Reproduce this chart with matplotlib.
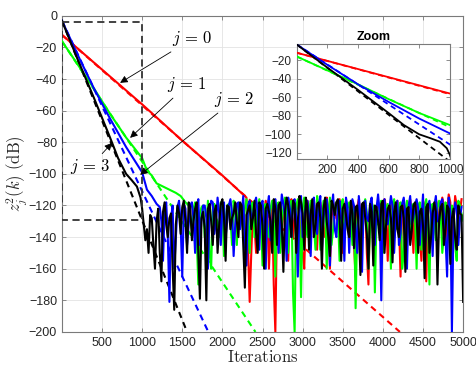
import numpy as np
import matplotlib
matplotlib.use("Agg")
import matplotlib.pyplot as plt

plt.rcParams["font.family"] = ["Liberation Sans", "DejaVu Sans"]
plt.rcParams["mathtext.fontset"] = "cm"

STEP = 20  # spacing (iterations) between read-off samples in the noise floor

# ---- transient part of each simulated curve (iteration, dB) ----
red_x = [0, 500, 1000, 1500, 2000, 2300]
red_y = [-12, -34, -56, -79, -101, -115]
green_x = [0, 200, 400, 600, 800, 1000, 1060, 1120, 1180, 1260, 1340, 1420, 1480, 1540]
green_y = [-16, -31, -46, -62, -77, -90, -98, -101, -106, -108, -110, -112, -114, -118]
blue_x = [0, 200, 400, 600, 800, 1000, 1060, 1120, 1180]
blue_y = [-3, -25, -46, -65, -83, -99, -110, -114, -119]
black_x = [0, 200, 400, 600, 700, 800, 870, 935, 980, 1000]
black_y = [-3, -28, -52, -77, -90, -100, -104, -108, -115, -122]

# ---- noise floor (dB): "even" samples every 40 it., "odd" samples in between ----
red_noise_start = 2340
red_noise = [-181, -125, -150, -118, -140, -117, -160, -119, -200, -122,
             -135, -117, -155, -116, -128, -118, -145, -160, -117, -130,
             -116, -148, -118, -135, -115, -160, -118, -128, -116, -150,
             -117, -140, -119, -165, -116, -132, -118, -170, -117, -145,
             -118, -135, -116, -155, -119, -140, -117, -165, -118, -130,
             -116, -150, -119, -138, -117, -168, -119, -142, -116, -132,
             -115, -145, -113, -150, -114, -128, -116]
red_mid = [-150, -132, -121, -128, -124, -121, -135, -170, -128, -121,
           -125, -130, -121, -140, -122, -128, -150, -124, -121, -128,
           -130, -121, -125, -140, -122, -128, -121, -130, -125, -120,
           -128, -122, -145, -121, -127, -124, -150, -121, -128, -122,
           -126, -140, -121, -128, -123, -122, -130, -121, -145, -120,
           -125, -121, -128, -155, -120, -126, -122, -130, -121, -128,
           -120, -125, -118, -130, -120, -124]

green_noise_start = 1580
green_noise = [-120, -135, -118, -170, -121, -140, -117, -160, -119, -130,
               -118, -152, -120, -128, -117, -145, -119, -135, -116, -150,
               -118, -130, -116, -158, -119, -140, -117, -165, -118, -132,
               -115, -150, -117, -200, -116, -178, -115, -140, -117, -132,
               -114, -148, -117, -160, -115, -135, -118, -155, -116, -130,
               -118, -145, -185, -120, -138, -116, -160, -118, -175, -132,
               -117, -140, -119, -160, -116, -135, -118, -150, -117, -142,
               -119, -160, -118, -138, -116, -170, -119, -142, -117, -150,
               -118, -135, -120, -145, -117, -130, -122]
green_mid = [-128, -122, -140, -125, -120, -133, -150, -121, -128, -140,
             -122, -130, -119, -145, -125, -121, -130, -122, -128, -120,
             -140, -121, -126, -120, -135, -122, -128, -120, -150, -121,
             -126, -122, -175, -120, -128, -121, -133, -125, -119, -148,
             -121, -127, -120, -130, -145, -121, -126, -120, -138, -122,
             -125, -121, -130, -127, -120, -125, -135, -121, -128, -120,
             -150, -122, -127, -120, -132, -121, -160, -124, -128, -120,
             -125, -121, -148, -122, -128, -120, -130, -121, -125, -140,
             -121, -128, -122, -155, -120, -126]

blue_noise_start = 1220
blue_noise = [-121, -155, -118, -181, -120, -140, -117, -165, -122, -132,
              -118, -150, -116, -128, -120, -160, -117, -138, -115, -145,
              -118, -130, -116, -152, -119, -135, -114, -158, -117, -128,
              -115, -148, -117, -160, -114, -132, -116, -150, -113, -127,
              -115, -140, -116, -165, -114, -130, -117, -152, -115, -138,
              -114, -128, -116, -158, -113, -140, -117, -132, -115, -150,
              -116, -135, -114, -162, -117, -130, -115, -145, -113, -180,
              -116, -132, -114, -150, -117, -138, -115, -160, -114, -128,
              -116, -145, -113, -135, -117, -152, -114, -130, -116, -140,
              -115, -200, -118, -145, -121]
blue_mid = [-130, -124, -140, -128, -160, -121, -132, -119, -145, -120,
            -128, -122, -145, -120, -128, -123, -118, -130, -125, -121,
            -140, -120, -125, -132, -118, -126, -145, -120, -128, -119,
            -125, -120, -130, -121, -142, -118, -125, -130, -119, -155,
            -122, -118, -128, -121, -140, -120, -127, -119, -130, -121,
            -148, -119, -126, -122, -135, -120, -128, -155, -121, -124,
            -120, -150, -126, -121, -128, -119, -138, -122, -125, -120,
            -130, -122, -120, -128, -145, -119, -126, -121, -132, -120,
            -122, -128, -150, -120, -126, -121, -130, -118, -125, -165,
            -124, -130, -122, -128]

black_noise_start = 1040
black_noise = [-142, -150, -128, -160, -122, -168, -118, -140, -125, -186,
               -120, -138, -117, -150, -121, -130, -118, -179, -124, -180,
               -119, -145, -120, -132, -116, -155, -121, -128, -118, -140,
               -120, -172, -123, -135, -117, -150, -120, -160, -119, -130,
               -116, -145, -118, -162, -115, -128, -117, -150, -114, -125,
               -115, -148, -116, -133, -118, -160, -115, -140, -117, -126,
               -116, -155, -119, -135, -117, -147, -120, -164, -118, -138,
               -119, -158, -121, -142, -117, -132, -120, -156, -118, -140,
               -120, -162, -121, -136, -118, -150, -122, -166, -119, -140,
               -118, -170, -121, -145, -120, -157, -122, -148, -125, -181]
black_mid = [-135, -126, -145, -130, -150, -124, -132, -128, -160, -132,
             -125, -121, -130, -118, -142, -122, -150, -128, -135, -122,
             -130, -124, -150, -119, -128, -120, -135, -125, -130, -118,
             -145, -126, -120, -128, -138, -118, -133, -122, -124, -150,
             -122, -120, -132, -124, -120, -140, -119, -130, -118, -148,
             -121, -125, -140, -119, -128, -122, -130, -152, -120, -118,
             -128, -122, -126, -140, -125, -121, -135, -119, -128, -160,
             -124, -120, -130, -119, -150, -122, -128, -124, -135, -121,
             -128, -122, -145, -120, -127, -124, -133, -121, -150, -125,
             -124, -130, -119, -135, -122, -128, -140, -120, -126]

# ---- theoretical curves (dashed) ----
red_th_x, red_th_y = [0, 4212], [-12, -200]
green_th_x, green_th_y = [0, 2412], [-16, -200]
blue_th_x, blue_th_y = [0, 1825], [-3, -200]
black_th_x, black_th_y = [0, 1100, 1560], [-3, -142, -200]

# zoom box drawn on the main plot
box_x = [0, 1000, 1000, 0, 0]
box_y = [-4, -4, -129, -129, -4]

COLORS = {"red": "#ff0000", "green": "#00ff00", "blue": "#0000ff", "black": "#000000"}


def full_series(tx, ty, start, noise, mid):
    merged = []
    for i, v in enumerate(noise):
        merged.append(v)
        if i < len(mid) and i < len(noise) - 1:
            merged.append(mid[i])
    xs = list(tx) + [start + STEP * i for i in range(len(merged))]
    ys = list(ty) + merged
    return xs, ys


SERIES = [
    ("red", full_series(red_x, red_y, red_noise_start, red_noise, red_mid), (red_th_x, red_th_y)),
    ("green", full_series(green_x, green_y, green_noise_start, green_noise, green_mid), (green_th_x, green_th_y)),
    ("blue", full_series(blue_x, blue_y, blue_noise_start, blue_noise, blue_mid), (blue_th_x, blue_th_y)),
    ("black", full_series(black_x, black_y, black_noise_start, black_noise, black_mid), (black_th_x, black_th_y)),
]

SPINE = "#7a7a7a"
TXT = "#262626"


def draw_curves(ax, lw):
    for name, _, (tx, ty) in SERIES:
        ax.plot(tx, ty, color=COLORS[name], lw=lw, linestyle=(0, (3, 2.2)), zorder=2)
    for name, (xs, ys), _ in SERIES:
        ax.plot(xs, ys, color=COLORS[name], lw=lw, zorder=3)


def style(ax, size):
    for s in ax.spines.values():
        s.set_color(SPINE)
        s.set_linewidth(0.8)
    ax.tick_params(direction="in", length=3, width=0.6, color=SPINE,
                   labelcolor=TXT, labelsize=size, top=True, right=True)


fig = plt.figure(figsize=(4.76, 3.68), dpi=100)
ax = fig.add_axes([0.130, 0.098, 0.843, 0.859])
draw_curves(ax, 1.5)
ax.plot(box_x, box_y, color="#333333", lw=1.3, linestyle=(0, (4, 2.5)), zorder=4)
ax.set_xlim(0, 5000)
ax.set_ylim(-200, 0)
ax.set_xticks(np.arange(500, 5001, 500))
ax.set_yticks(np.arange(-200, 1, 20))
ax.grid(True, color="#e3e3e3", lw=0.6)
ax.set_axisbelow(True)
style(ax, 9)
ax.set_xlabel(r"$\mathrm{Iterations}$", fontsize=12, color=TXT, labelpad=0)
ax.set_ylabel(r"$z_j^2(k)\ \mathrm{(dB)}$", fontsize=12, color=TXT, labelpad=0)

arrow = dict(arrowstyle="-|>", color="k", lw=0.6, mutation_scale=11, shrinkA=1, shrinkB=0)
notes = [(r"$j\,=\,0$", (725, -42.4), (1625, -14.6)),
         (r"$j\,=\,1$", (850, -77.2), (1562, -43.7)),
         (r"$j\,=\,2$", (975, -100.6), (2150, -53.2)),
         (r"$j\,=\,3$", (625, -80.4), (350, -95.6))]
for txt, xy, xytext in notes:
    ax.annotate(txt, xy=xy, xytext=xytext, fontsize=12, ha="center", va="center",
                arrowprops=arrow, zorder=6)

ins = fig.add_axes([0.623, 0.567, 0.322, 0.3125])
ins.set_facecolor("white")
draw_curves(ins, 1.3)
ins.set_xlim(0, 1000)
ins.set_ylim(-127, -3)
ins.set_xticks([200, 400, 600, 800, 1000])
ins.set_yticks([-120, -100, -80, -60, -40, -20])
style(ins, 8.5)
ins.set_title("Zoom", fontsize=9, fontweight="bold", color="k", pad=3)

fig.savefig("out.png", dpi=100)
